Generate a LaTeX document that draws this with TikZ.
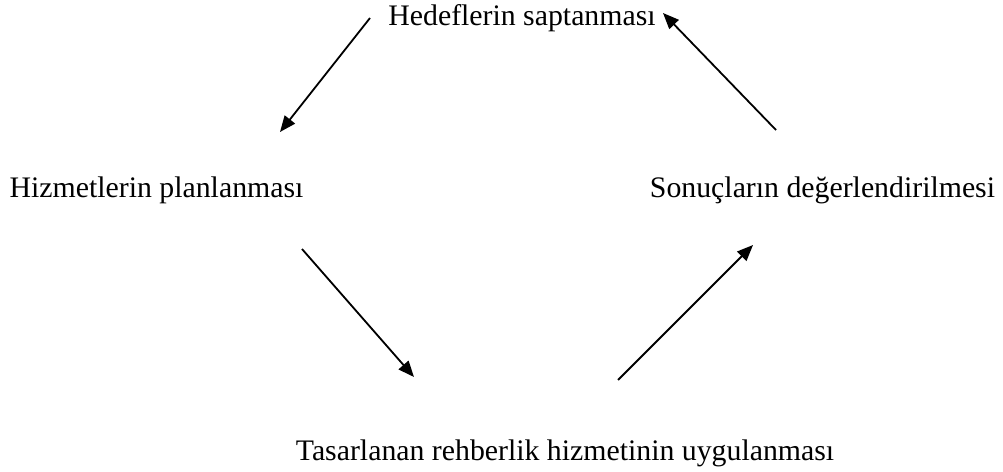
\documentclass[tikz,border=0pt]{standalone}
\usepackage{fontspec}
\setmainfont{Liberation Serif}
\usetikzlibrary{arrows.meta}
\begin{document}
\begin{tikzpicture}[x=1pt,y=-1pt,
  label/.style={anchor=base,inner sep=0pt,font=\fontsize{29.8}{35}\selectfont},
  flow/.style={line width=1.8pt,-{Triangle[length=16pt,width=13pt]}}]
\useasboundingbox (0,0) rectangle (1003,471);
\node[label] (top) at (522,25) {Hedeflerin saptanması};
\node[label] (left) at (156.5,197) {Hizmetlerin planlanması};
\node[label] (right) at (822.5,197) {Sonuçların değerlendirilmesi};
\node[label] (bottom) at (565,460) {Tasarlanan rehberlik hizmetinin uygulanması};
\coordinate (a1s) at (370,18);
\coordinate (a1e) at (280,132);
\coordinate (a2s) at (776,130);
\coordinate (a2e) at (663,13);
\coordinate (a3s) at (302,249);
\coordinate (a3e) at (414,377);
\coordinate (a4s) at (618,380);
\coordinate (a4e) at (753,245);
\draw[flow] (a1s) -- (a1e);
\draw[flow] (a2s) -- (a2e);
\draw[flow] (a3s) -- (a3e);
\draw[flow] (a4s) -- (a4e);
\end{tikzpicture}
\end{document}
